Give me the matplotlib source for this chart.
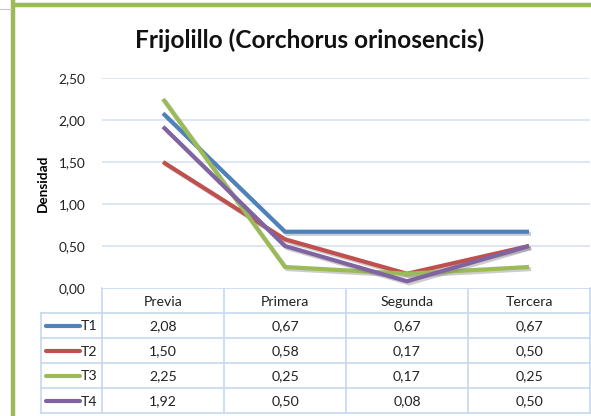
import matplotlib
matplotlib.use("Agg")
import matplotlib.pyplot as plt
import matplotlib.patheffects as pe

categories = ["Previa", "Primera", "Segunda", "Tercera"]
series_names = ["T1", "T2", "T3", "T4"]
t1 = [2.08, 0.67, 0.67, 0.67]
t2 = [1.50, 0.58, 0.17, 0.50]
t3 = [2.25, 0.25, 0.17, 0.25]
t4 = [1.92, 0.50, 0.08, 0.50]
yticks = [0.0, 0.5, 1.0, 1.5, 2.0, 2.5]
title = "Frijolillo (Corchorus orinosencis)"
ylabel = "Densidad"

colors = ["#4F81BD", "#C0504D", "#9BBB59", "#8064A2"]
grid_c = "#D5E2F2"
font = "Lato"

W, H = 591, 416
fig = plt.figure(figsize=(W / 100, H / 100), dpi=100)

# pixel layout
left, right, top, bottom = 102, 590, 78, 288
ax = fig.add_axes([left / W, 1 - bottom / H, (right - left) / W, (bottom - top) / H])
ax.set_xlim(-0.5, len(categories) - 0.5)
ax.set_ylim(0, 2.5)
for s in ax.spines.values():
    s.set_visible(False)
ax.set_xticks([])
ax.set_yticks(yticks)
ax.set_yticklabels([f"{v:.2f}".replace(".", ",") for v in yticks],
                   fontsize=9.8, family=font, color="#222222")
ax.tick_params(axis="y", length=0, pad=12)
for v in yticks[1:]:
    ax.axhline(v, color=grid_c, lw=1.2, zorder=0)
ax.set_ylabel(ylabel, fontsize=9.8, fontweight="bold", family=font, labelpad=7)

data = [t1, t2, t3, t4]
xs = range(len(categories))
for vals, c in zip(data, colors):
    ax.plot(xs, vals, color=c, lw=3.0, solid_capstyle="butt", zorder=3,
            path_effects=[pe.SimpleLineShadow(offset=(1.5, -1.5), shadow_color="gray", alpha=0.4),
                          pe.Normal()])

# overlay for decorations and table (pixel coordinates)
ov = fig.add_axes([0, 0, 1, 1], zorder=-1)
ov.set_xlim(0, W)
ov.set_ylim(H, 0)
ov.axis("off")
ov.patch.set_alpha(0)

# green frame
ov.plot([12.5, 12.5], [0, H], color="#9BBB59", lw=3.2, solid_capstyle="butt")
ov.plot([11, W], [4.5, 4.5], color="#9BBB59", lw=3.2, solid_capstyle="butt")
ov.plot([0, 11], [9, 9], color="#C8C8C8", lw=0.8)

# title
fig.text(310 / W, 1 - 40 / H, title, ha="center", va="center",
         fontsize=17.6, fontweight="bold", family=font, color="#111111")

# table
row_h = 25
col_w = (right - left) / len(categories)
tab_c = "#C6D9F0"
hdr_top = bottom
n_rows = len(series_names)
tab_bottom = hdr_top + row_h * (n_rows + 1)
lbl_left = 41
ov.plot([left, right], [hdr_top, hdr_top], color=tab_c, lw=1.2)
for i in range(1, n_rows + 2):
    y = hdr_top + i * row_h
    ov.plot([lbl_left, right], [y, y], color=tab_c, lw=1.2)
ov.plot([lbl_left, lbl_left], [hdr_top + row_h, tab_bottom], color=tab_c, lw=1.2)
for j in range(len(categories) + 1):
    x = left + j * col_w
    ov.plot([x, x], [hdr_top, tab_bottom], color=tab_c, lw=1.2)

fs = 10.2
for j, cat in enumerate(categories):
    ov.text(left + (j + 0.5) * col_w, hdr_top + row_h / 2 + 1, cat, ha="center", va="center",
            fontsize=fs, family=font, color="#222222")
for i, (name, vals, c) in enumerate(zip(series_names, data, colors)):
    yc = hdr_top + (i + 1.5) * row_h + 1
    ov.plot([46, 80], [yc - 1, yc - 1], color=c, lw=3.0, solid_capstyle="round")
    ov.text(81, yc, name, ha="left", va="center", fontsize=fs, family=font, color="#222222")
    for j, v in enumerate(vals):
        ov.text(left + (j + 0.5) * col_w, yc, f"{v:.2f}".replace(".", ","), ha="center",
                va="center", fontsize=fs, family=font, color="#222222")

fig.savefig("out.png", dpi=100)
